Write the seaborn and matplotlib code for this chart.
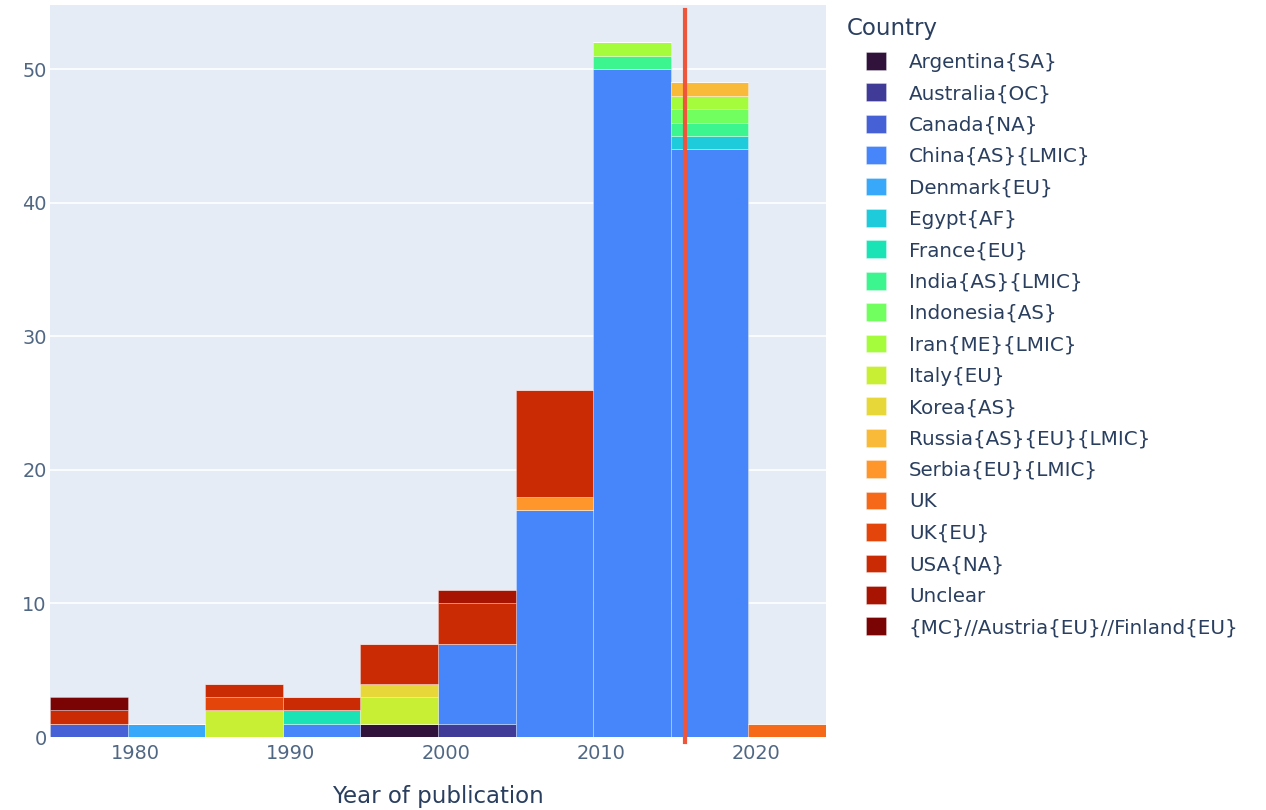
import numpy as np
import pandas as pd
import seaborn as sb
import matplotlib
matplotlib.use("Agg")
from matplotlib import pyplot as plt

# categories (legend order = stack order, bottom to top)
COUNTRIES = ["Argentina{SA}", "Australia{OC}", "Canada{NA}", "China{AS}{LMIC}",
             "Denmark{EU}", "Egypt{AF}", "France{EU}", "India{AS}{LMIC}",
             "Indonesia{AS}", "Iran{ME}{LMIC}", "Italy{EU}", "Korea{AS}",
             "Russia{AS}{EU}{LMIC}", "Serbia{EU}{LMIC}", "UK", "UK{EU}",
             "USA{NA}", "Unclear", "{MC}//Austria{EU}//Finland{EU}"]

# publication counts per 5-year bin
YEARS = [1977, 1977, 1977,
         1982,
         1987, 1987, 1987,
         1992, 1992, 1992,
         1997, 1997, 1997, 1997,
         2002, 2002, 2002, 2002,
         2007, 2007, 2007,
         2012, 2012, 2012,
         2017, 2017, 2017, 2017, 2017, 2017,
         2022]
COUNTRY = ["Canada{NA}", "USA{NA}", "{MC}//Austria{EU}//Finland{EU}",
           "Denmark{EU}",
           "Italy{EU}", "UK{EU}", "USA{NA}",
           "China{AS}{LMIC}", "France{EU}", "USA{NA}",
           "Argentina{SA}", "Italy{EU}", "Korea{AS}", "USA{NA}",
           "Australia{OC}", "China{AS}{LMIC}", "USA{NA}", "Unclear",
           "China{AS}{LMIC}", "Serbia{EU}{LMIC}", "USA{NA}",
           "China{AS}{LMIC}", "India{AS}{LMIC}", "Iran{ME}{LMIC}",
           "China{AS}{LMIC}", "Egypt{AF}", "India{AS}{LMIC}", "Indonesia{AS}",
           "Iran{ME}{LMIC}", "Russia{AS}{EU}{LMIC}",
           "UK"]
COUNTS = [1, 1, 1,
          1,
          2, 1, 1,
          1, 1, 1,
          1, 2, 1, 3,
          1, 6, 3, 1,
          17, 1, 8,
          50, 1, 1,
          44, 1, 1, 1, 1, 1,
          1]

CUTOFF_YEAR = 2015.4
TEXT_COLOR = "#2a3f5f"


def main():
    df = pd.DataFrame({"Year of publication": YEARS, "Country": COUNTRY, "n": COUNTS})
    colors = [matplotlib.colors.to_hex(c)
              for c in matplotlib.colormaps["turbo"](np.linspace(0, 1, len(COUNTRIES)))]

    plt.rcParams["font.family"] = ["DejaVu Sans"]
    fig = plt.figure(figsize=(12.66, 8.10), dpi=100)
    ax = fig.add_axes([0.0395, 0.0901, 0.613, 0.9037])
    ax.set_facecolor("#e5ecf6")

    # seaborn puts the first hue level on top of the stack, so feed it reversed
    sb.histplot(data=df, x="Year of publication", hue="Country", weights="n",
                hue_order=COUNTRIES[::-1], palette=colors[::-1], multiple="stack",
                binwidth=5, binrange=(1974.5, 2024.5), alpha=1,
                edgecolor=(1, 1, 1, 0.35), linewidth=0.6, ax=ax)

    ax.axvline(CUTOFF_YEAR, ymin=-0.007, ymax=0.993, color="#ef553b",
               linewidth=3, clip_on=False, zorder=5)

    ax.set_xlim(1974.5, 2024.5)
    ax.set_ylim(0, 54.8)
    ax.set_xticks([1980, 1990, 2000, 2010, 2020])
    ax.set_yticks([0, 10, 20, 30, 40, 50])
    ax.grid(axis="y", color="white", linewidth=1.2)
    ax.set_axisbelow(True)
    for s in ax.spines.values():
        s.set_visible(False)
    ax.tick_params(length=0, labelsize=13.9, colors="#506784")
    ax.tick_params(axis="y", pad=2.5)
    ax.tick_params(axis="x", pad=5)
    ax.set_ylabel("")
    ax.set_xlabel("Year of publication", fontsize=16.5, color=TEXT_COLOR, labelpad=16)

    # legend back in the original order
    old = ax.get_legend()
    handles = list(old.legend_handles)[::-1]
    labels = [t.get_text() for t in old.get_texts()][::-1]
    old.remove()
    leg = ax.legend(handles, labels, loc="upper left",
                    bbox_to_anchor=(866 / 1266, 1 - 52 / 810),
                    bbox_transform=fig.transFigure, frameon=False,
                    fontsize=14.3, handlelength=1.0, handleheight=1.0,
                    handletextpad=1.16, labelspacing=0.59,
                    borderpad=0, borderaxespad=0)
    for t in leg.get_texts():
        t.set_color(TEXT_COLOR)
    fig.text(847 / 1266, 1 - 28 / 810, "Country", fontsize=16.5,
             color=TEXT_COLOR, va="center", ha="left")

    fig.savefig("out.png", dpi=100)


main()
